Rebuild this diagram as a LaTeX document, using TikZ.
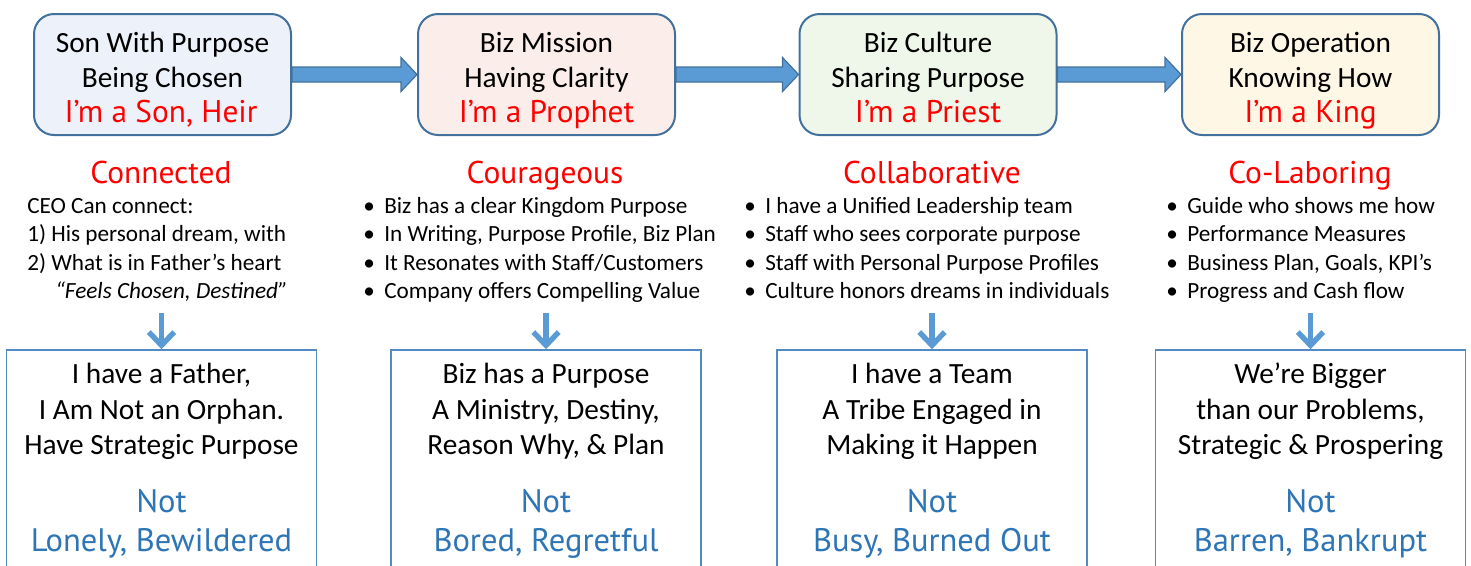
\documentclass[tikz,border=0pt]{standalone}
\usepackage{fontspec}
\setmainfont{Carlito}
\newfontfamily\handfont{PT Sans}
\usetikzlibrary{arrows.meta,calc}
\definecolor{boxline}{RGB}{65,113,156}
\definecolor{arrowfill}{RGB}{91,155,213}
\definecolor{botline}{RGB}{84,138,196}
\definecolor{fillA}{RGB}{237,242,250}
\definecolor{fillB}{RGB}{251,238,234}
\definecolor{fillC}{RGB}{239,246,234}
\definecolor{fillD}{RGB}{255,247,230}
\definecolor{hred}{RGB}{255,0,0}
\definecolor{hblue}{RGB}{46,117,182}
\begin{document}
\begin{tikzpicture}[x=0.75pt,y=-0.75pt,
  topbox/.style={draw=boxline, line width=1.5pt, rounded corners=15pt, minimum width=192.75pt, minimum height=90.75pt, inner sep=0pt},
  botbox/.style={draw=botline, line width=1.1pt, minimum width=232.5pt, minimum height=195pt, inner sep=0pt},
  blk/.style={fill=arrowfill, draw=boxline, line width=0.9pt},
  dn/.style={draw=arrowfill, line width=4pt, -{Straight Barb[length=10pt,width=19pt]}},
  big/.style={font=\fontsize{22}{26}\selectfont, anchor=base, inner sep=0pt},
  redt/.style={font=\handfont\fontsize{23.5}{26}\selectfont, text=hred, anchor=base, inner sep=0pt},
  headt/.style={font=\handfont\fontsize{23.6}{26}\selectfont, text=hred, anchor=base, inner sep=0pt},
  lst/.style={font=\fontsize{17.4}{21}\selectfont, anchor=base west, inner sep=0pt},
  bluet/.style={font=\handfont\fontsize{24.4}{28}\selectfont, text=hblue, anchor=base, inner sep=0pt}]
\useasboundingbox (0,0) rectangle (1471,565);
\clip (0,0) rectangle (1471,565);
\fill[white] (0,0) rectangle (1471,565);

% top boxes
\node[topbox, fill=fillA] (b1) at (162.5,74.5) {};
\node[topbox, fill=fillB] (b2) at (546.5,74.5) {};
\node[topbox, fill=fillC] (b3) at (928,74.5) {};
\node[topbox, fill=fillD] (b4) at (1310.5,74.5) {};

% block arrows
\foreach \a/\b in {b1/b2,b2/b3,b3/b4}{
  \draw[blk] ($(\a.east)+(0,-7.5)$) -- ($(\b.west)+(-16,-7.5)$) -- ($(\b.west)+(-16,-17)$) -- (\b.west)
    -- ($(\b.west)+(-16,17)$) -- ($(\b.west)+(-16,7.5)$) -- ($(\a.east)+(0,7.5)$) -- cycle;
}

% top box texts
\node[big] (t1a) at (162.5,52.5) {Son With Purpose};
\node[big] (t1b) at (162.5,87) {Being Chosen};
\node[redt] (t1c) at (161,122) {I’m a Son, Heir};
\node[big] (t2a) at (546.5,52.5) {Biz Mission};
\node[big] (t2b) at (546.5,87) {Having Clarity};
\node[redt] (t2c) at (546.5,122) {I’m a Prophet};
\node[big] (t3a) at (928,52.5) {Biz Culture};
\node[big] (t3b) at (928,87) {Sharing Purpose};
\node[redt] (t3c) at (928,122) {I’m a Priest};
\node[big] (t4a) at (1310.5,52.5) {Biz Operation};
\node[big] (t4b) at (1310.5,87) {Knowing How};
\node[redt] (t4c) at (1310.5,122) {I’m a King};

% headings
\node[headt] (h1) at (161,183) {Connected};
\node[headt] (h2) at (545,183) {Courageous};
\node[headt] (h3) at (932,183) {Collaborative};
\node[headt] (h4) at (1310,183) {Co-Laboring};

% lists
\node[lst] (l1a) at (27,213) {CEO Can connect:};
\node[lst] (l1b) at (27,241.5) {1) His personal dream, with};
\node[lst] (l1c) at (27,270) {2) What is in Father’s heart};
\node[lst] (l1d) at (55,298.5) {\itshape “Feels Chosen, Destined”};

\node[lst] (l2a) at (384,213) {\llap{•\hspace{7pt}}Biz has a clear Kingdom Purpose};
\node[lst] (l2b) at (384,241.5) {\llap{•\hspace{7pt}}In Writing, Purpose Profile, Biz Plan};
\node[lst] (l2c) at (384,270) {\llap{•\hspace{7pt}}It Resonates with Staff/Customers};
\node[lst] (l2d) at (384,298.5) {\llap{•\hspace{7pt}}Company offers Compelling Value};

\node[lst] (l3a) at (765,213) {\llap{•\hspace{7pt}}I have a Unified Leadership team};
\node[lst] (l3b) at (765,241.5) {\llap{•\hspace{7pt}}Staff who sees corporate purpose};
\node[lst] (l3c) at (765,270) {\llap{•\hspace{7pt}}Staff with Personal Purpose Profiles};
\node[lst] (l3d) at (765,298.5) {\llap{•\hspace{7pt}}Culture honors dreams in individuals};

\node[lst] (l4a) at (1187,213) {\llap{•\hspace{7pt}}Guide who shows me how};
\node[lst] (l4b) at (1187,241.5) {\llap{•\hspace{7pt}}Performance Measures};
\node[lst] (l4c) at (1187,270) {\llap{•\hspace{7pt}}Business Plan, Goals, KPI’s};
\node[lst] (l4d) at (1187,298.5) {\llap{•\hspace{7pt}}Progress and Cash flow};

% bottom boxes
\node[botbox] (bb1) at (161.5,480) {};
\node[botbox] (bb2) at (546,480) {};
\node[botbox] (bb3) at (932,480) {};
\node[botbox] (bb4) at (1310.5,480) {};

% down arrows
\coordinate (d1) at (161.5,313);
\coordinate (d2) at (546,313);
\coordinate (d3) at (932,313);
\coordinate (d4) at (1310.5,313);
\foreach \i in {1,2,3,4}{ \draw[dn] (d\i) -- (bb\i.north); }

% bottom texts
\node[big] (u1a) at (161.5,383) {I have a Father,};
\node[big] (u1b) at (161.5,419) {I Am Not an Orphan.};
\node[big] (u1c) at (161.5,454) {Have Strategic Purpose};
\node[bluet] (v1a) at (161.5,512) {Not};
\node[bluet] (v1b) at (161.5,551) {Lonely, Bewildered};

\node[big] (u2a) at (546,383) {Biz has a Purpose};
\node[big] (u2b) at (546,419) {A Ministry, Destiny,};
\node[big] (u2c) at (546,454) {Reason Why, \& Plan};
\node[bluet] (v2a) at (546,512) {Not};
\node[bluet] (v2b) at (546,551) {Bored, Regretful};

\node[big] (u3a) at (932,383) {I have a Team};
\node[big] (u3b) at (932,419) {A Tribe Engaged in};
\node[big] (u3c) at (932,454) {Making it Happen};
\node[bluet] (v3a) at (932,512) {Not};
\node[bluet] (v3b) at (932,551) {Busy, Burned Out};

\node[big] (u4a) at (1310.5,383) {We’re Bigger};
\node[big] (u4b) at (1310.5,419) {than our Problems,};
\node[big] (u4c) at (1310.5,454) {Strategic \& Prospering};
\node[bluet] (v4a) at (1310.5,512) {Not};
\node[bluet] (v4b) at (1310.5,551) {Barren, Bankrupt};
\end{tikzpicture}
\end{document}
